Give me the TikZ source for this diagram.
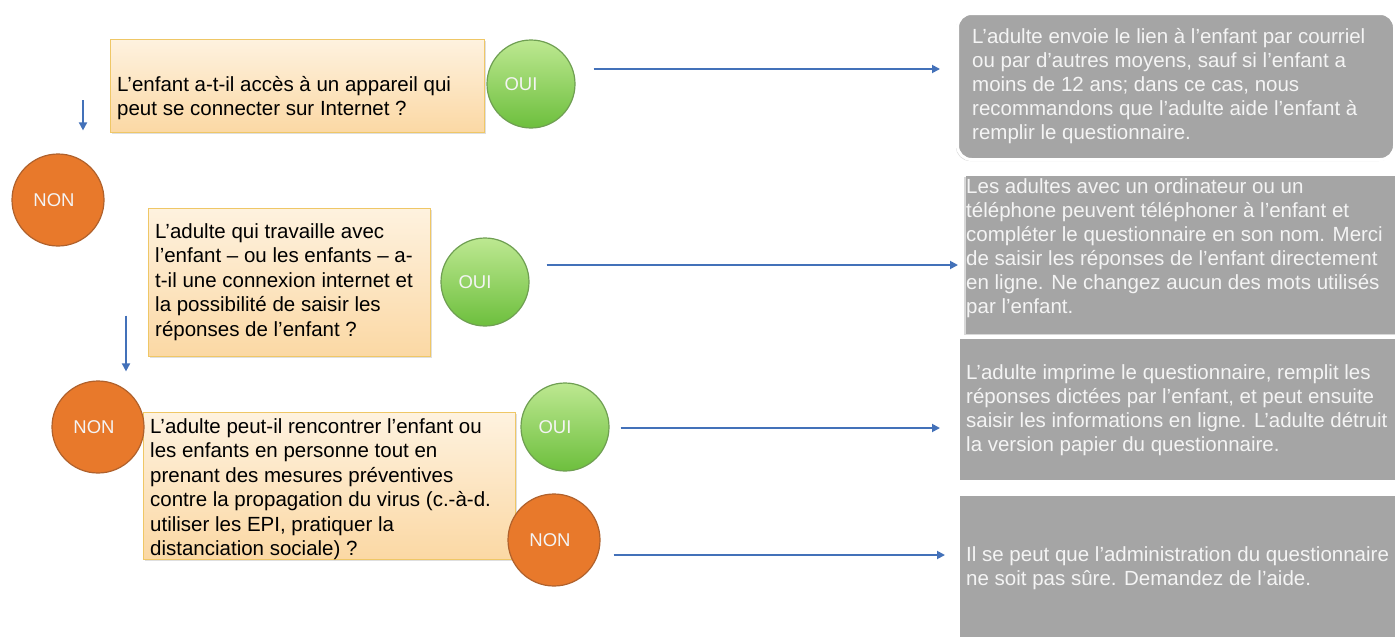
\documentclass[tikz,border=0pt]{standalone}
\usepackage{fontspec}
\setmainfont{Liberation Sans}
\usetikzlibrary{shadows,arrows.meta}
\definecolor{peachT}{HTML}{FEF2DF}
\definecolor{peachB}{HTML}{FBD8A4}
\definecolor{peachD}{HTML}{EFC766}
\definecolor{greenT}{HTML}{BDE891}
\definecolor{greenB}{HTML}{6DBF3D}
\definecolor{greenD}{HTML}{6F9F52}
\definecolor{orangeF}{HTML}{E8792B}
\definecolor{orangeD}{HTML}{B0612C}
\definecolor{grayF}{HTML}{A5A5A5}
\definecolor{arrowC}{HTML}{4371B9}
\definecolor{paleT}{HTML}{F4F4F4}
\tikzset{
  qbox/.style={draw=peachD, line width=1.2pt, top color=peachT, bottom color=peachB,
    drop shadow={opacity=0.25, shadow xshift=1.5pt, shadow yshift=-1.5pt},
    inner sep=0pt, anchor=north west},
  ansbox/.style={draw=white, line width=3pt, fill=grayF,
    drop shadow={opacity=0.3, shadow xshift=-1.5pt, shadow yshift=-1.5pt},
    inner sep=0pt, anchor=north west},
  yesnode/.style={circle, draw=greenD, line width=1.2pt, top color=greenT, bottom color=greenB,
    minimum size=88pt, inner sep=0pt, text=paleT, font=\fontsize{18.5}{20}\selectfont},
  nonode/.style={circle, draw=orangeD, line width=1.2pt, fill=orangeF,
    minimum size=92pt, inner sep=0pt, text=paleT, font=\fontsize{18.5}{20}\selectfont},
  qtext/.style={anchor=north west, inner sep=0pt, align=left, text=black,
    font=\fontsize{20.5}{24.5}\selectfont},
  atext/.style={anchor=north west, inner sep=0pt, align=left, text=paleT,
    font=\fontsize{20.5}{24}\selectfont},
  arr/.style={draw=arrowC, line width=1.8pt, -{Triangle[length=8pt,width=8pt]}},
}
\begin{document}
\begin{tikzpicture}[x=1pt,y=-1pt]
\useasboundingbox (0,0) rectangle (1395,637);
\fill[white] (0,0) rectangle (1395,637);
% question boxes
\node[qbox, minimum width=374pt, minimum height=93pt] (b1) at (110,39) {};
\node[qbox, minimum width=282pt, minimum height=148pt] (b2) at (148,208) {};
\node[qbox, minimum width=372pt, minimum height=147pt] (b3) at (143,412) {};
% answer boxes
\node[ansbox, rounded corners=14pt, minimum width=437pt, minimum height=146pt] (r1) at (956,12) {};
\node[ansbox, draw=none, minimum width=440pt, minimum height=158pt] (r2) at (964,174) {};
\node[ansbox, minimum width=445pt, minimum height=144pt] (r3) at (957,336) {};
\node[ansbox, minimum width=445pt, minimum height=150pt] (r4) at (957,493) {};
% circles
\node[yesnode] (o1) at (531,84) {OUI\hspace*{20pt}};
\node[nonode] (n1) at (58,200) {NON\hspace*{8pt}};
\node[yesnode] (o2) at (485,282) {OUI\hspace*{20pt}};
\node[nonode] (n2) at (98,427) {NON\hspace*{8pt}};
\node[yesnode] (o3) at (565,427) {OUI\hspace*{20pt}};
\node[nonode] (n3) at (554,540) {NON\hspace*{8pt}};
% question texts
\node[qtext] (t1) at (117,74) {\strut L’enfant a-t-il accès à un appareil qui\\peut se connecter sur Internet ?};
\node[qtext] (t2) at (155,221) {\strut L’adulte qui travaille avec\\l’enfant – ou les enfants – a-\\t-il une connexion internet et\\la possibilité de saisir les\\réponses de l’enfant ?};
\node[qtext] (t3) at (150,416) {\strut L’adulte peut-il rencontrer l’enfant ou\\les enfants en personne tout en\\prenant des mesures préventives\\contre la propagation du virus (c.-à-d.\\utiliser les EPI, pratiquer la\\distanciation sociale) ?};
% answer texts
\node[atext] (s1) at (972,26) {\strut L’adulte envoie le lien à l’enfant par courriel\\ou par d’autres moyens, sauf si l’enfant a\\moins de 12 ans; dans ce cas, nous\\recommandons que l’adulte aide l’enfant à\\remplir le questionnaire.};
\node[atext] (s2) at (966,176) {\strut Les adultes avec un ordinateur ou un\\téléphone peuvent téléphoner à  l’enfant et\\compléter le questionnaire en son nom. Merci\\de saisir les réponses de l’enfant directement\\en ligne. Ne changez aucun des mots utilisés\\par l’enfant.};
\node[atext] (s3) at (966,362) {\strut L’adulte imprime le questionnaire, remplit les\\réponses dictées par l’enfant, et peut ensuite\\saisir les informations en ligne. L’adulte détruit\\la version papier du questionnaire.};
\node[atext] (s4) at (966,544) {\strut Il se peut que l’administration du questionnaire\\ne soit pas sûre. Demandez de l’aide.};
% connectors
\draw[arr] ([shift={(18,-15)}]o1.east) -- ([shift={(-16,-17.5)}]r1.west);
\draw[arr] ([shift={(17,-17)}]o2.east) -- ([shift={(-6,10.5)}]r2.west);
\draw[arr] ([shift={(11,1)}]o3.east) -- ([shift={(-17,18.5)}]r3.west);
\draw[arr] ([shift={(13,15)}]n3.east) -- ([shift={(-12,-14.5)}]r4.west);
\draw[arr] ([shift={(-27,14)}]b1.west) -- ([shift={(25,-23)}]n1.north);
\draw[arr] ([shift={(-22,33)}]b2.west) -- ([shift={(28,-9)}]n2.north);
\end{tikzpicture}
\end{document}
